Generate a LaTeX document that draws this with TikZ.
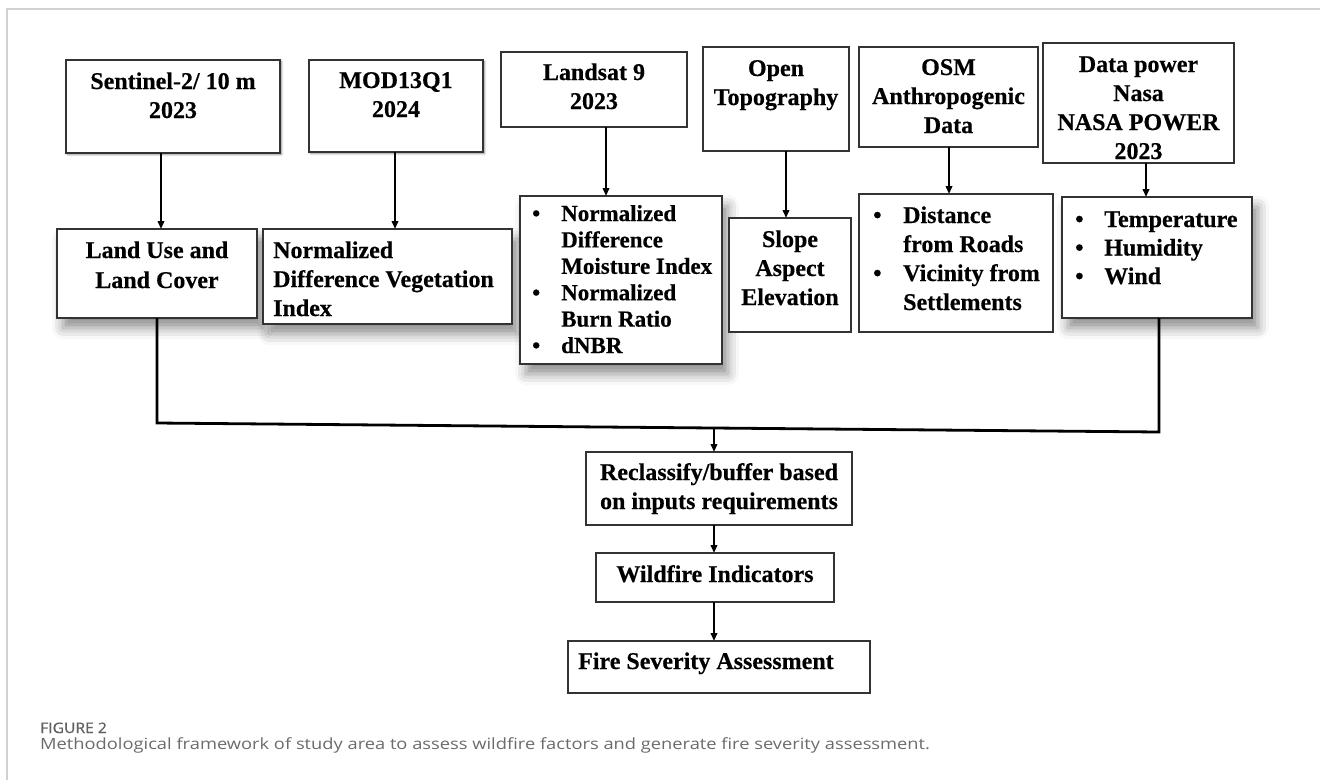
\documentclass[tikz,border=0pt]{standalone}
\usepackage{fontspec}
\setmainfont{Liberation Serif}[BoldFeatures={FakeBold=0.4}]
\newfontfamily\capfont[FakeStretch=1.18]{Open Sans}
\newfontfamily\capsb[FakeBold=1,FakeStretch=1.08]{Open Sans}
\usetikzlibrary{arrows.meta,shadows.blur}
\newcommand\bul{\makebox[29pt][l]{\textbullet}}
\begin{document}
\begin{tikzpicture}[x=1pt,y=-1pt,
  box/.style={draw=black!80, line width=1.5pt, inner sep=0pt, outer sep=0pt, anchor=north west, fill=white},
  sbox/.style={box, blur shadow={shadow xshift=6pt, shadow yshift=-10pt, shadow blur radius=11pt, shadow opacity=45}},
  tbox/.style={box, blur shadow={shadow xshift=1.5pt, shadow yshift=-1.5pt, shadow blur radius=2pt, shadow opacity=50}},
  txt/.style={inner sep=0pt, anchor=base, font=\bfseries\fontsize{24}{29}\selectfont},
  ltxt/.style={txt, anchor=base west},
  arr/.style={draw=black, line width=2pt, -{Triangle[length=8pt,width=6.5pt]}},
  conn/.style={draw=black, line width=2.8pt, line join=miter},
  frame/.style={draw=black!18, line width=1.6pt}
]
\useasboundingbox (0,0) rectangle (1320,780);
\draw[frame] (7,780) -- (7,9) -- (1320,9);

% top row
\node[tbox, minimum width=214pt, minimum height=93pt] (s1) at (66,60) {};
\node[tbox, minimum width=174pt, minimum height=92pt] (s2) at (309,60) {};
\node[box, minimum width=186pt, minimum height=75pt] (s3) at (501,52) {};
\node[box, minimum width=146pt, minimum height=104pt] (s4) at (703,47) {};
\node[box, minimum width=179pt, minimum height=100pt] (s5) at (859,47) {};
\node[box, minimum width=191pt, minimum height=120pt] (s6) at (1043,43) {};

\node[txt] (s1t) at (173,89) {\begin{tabular}[t]{@{}c@{}}Sentinel-2/ 10 m\\2023\end{tabular}};
\node[txt] (s2t) at (396,88) {\begin{tabular}[t]{@{}c@{}}MOD13Q1\\2024\end{tabular}};
\node[txt] (s3t) at (594,80) {\begin{tabular}[t]{@{}c@{}}Landsat 9\\2023\end{tabular}};
\node[txt] (s4t) at (776,76) {\begin{tabular}[t]{@{}c@{}}Open\\Topography\end{tabular}};
\node[txt] (s5t) at (948.5,75) {\begin{tabular}[t]{@{}c@{}}OSM\\Anthropogenic\\Data\end{tabular}};
\node[txt] (s6t) at (1138.5,72) {\begin{tabular}[t]{@{}c@{}}Data power\\Nasa\\NASA POWER\\2023\end{tabular}};

% second row
\node[sbox, minimum width=200pt, minimum height=89pt] (l1) at (57,229) {};
\node[sbox, minimum width=249pt, minimum height=95pt] (l2) at (263,229) {};
\node[sbox, minimum width=202pt, minimum height=168pt] (l3) at (520,196) {};
\node[box, minimum width=122pt, minimum height=114pt] (l4) at (729,218) {};
\node[box, minimum width=194pt, minimum height=138pt] (l5) at (859,194) {};
\node[sbox, minimum width=190pt, minimum height=121pt] (l6) at (1062,197) {};

\node[txt, font=\bfseries\fontsize{24}{30}\selectfont] (l1t) at (157,258) {\begin{tabular}[t]{@{}c@{}}Land Use and\\Land Cover\end{tabular}};
\node[ltxt] (l2t) at (273,258) {\begin{tabular}[t]{@{}l@{}}Normalized\\Difference Vegetation\\Index\end{tabular}};
\node[ltxt, font=\bfseries\fontsize{23}{26.4}\selectfont] (l3t) at (532,221) {\begin{tabular}[t]{@{}l@{}l@{}}\bul&Normalized\\&Difference\\&Moisture Index\\\bul&Normalized\\&Burn Ratio\\\bul&dNBR\end{tabular}};
\node[txt] (l4t) at (790,247) {\begin{tabular}[t]{@{}c@{}}Slope\\Aspect\\Elevation\end{tabular}};
\node[ltxt] (l5t) at (873,223) {\begin{tabular}[t]{@{}l@{}l@{}}\makebox[30pt][l]{\textbullet}&Distance\\&from Roads\\\makebox[30pt][l]{\textbullet}&Vicinity from\\&Settlements\end{tabular}};
\node[ltxt, font=\bfseries\fontsize{24}{28.5}\selectfont] (l6t) at (1075,227) {\begin{tabular}[t]{@{}l@{}l@{}}\bul&Temperature\\\bul&Humidity\\\bul&Wind\end{tabular}};

% lower chain
\node[box, minimum width=266pt, minimum height=73pt] (r1) at (586,452) {};
\node[box, minimum width=238pt, minimum height=49pt] (r2) at (596,553) {};
\node[box, minimum width=302pt, minimum height=52pt] (r3) at (568,641) {};
\node[txt] (r1t) at (719,480) {\begin{tabular}[t]{@{}c@{}}Reclassify/buffer based\\on inputs requirements\end{tabular}};
\node[txt] (r2t) at (715,582) {Wildfire Indicators};
\node[ltxt] (r3t) at (578,669) {Fire Severity Assessment};

% connectors
\coordinate (a1) at (161,0);
\coordinate (a2) at (395,0);
\coordinate (a3) at (606,0);
\coordinate (a4) at (786,0);
\coordinate (a5) at (949,0);
\coordinate (a6) at (1146,0);
\draw[arr] (s1.south -| a1) -- (l1.north -| a1);
\draw[arr] (s2.south -| a2) -- (l2.north -| a2);
\draw[arr] (s3.south -| a3) -- (l3.north -| a3);
\draw[arr] (s4.south -| a4) -- (l4.north -| a4);
\draw[arr] (s5.south -| a5) -- (l5.north -| a5);
\draw[arr] (s6.south -| a6) -- (l6.north -| a6);

\coordinate (c1) at (157,0);
\coordinate (c2) at (1159,0);
\coordinate (j1) at (157,423);
\coordinate (j2) at (1159,432);
\coordinate (jm) at (714,428);
\draw[conn] (l1.south -| c1) -- (j1) -- (j2) -- (l6.south -| c2);
\draw[arr] (jm) -- (r1.north -| jm);
\draw[arr] (r1.south -| jm) -- (r2.north -| jm);
\draw[arr] (r2.south -| jm) -- (r3.north -| jm);

% caption
\node[anchor=base west, inner sep=0pt, font=\capsb\fontsize{14.5}{17}\selectfont, text=black!62] (fig) at (40,733) {FIGURE 2};
\node[anchor=base west, inner sep=0pt, font=\capfont\fontsize{15.5}{19}\selectfont, text=black!58] (cap) at (40,749) {Methodological framework of study area to assess wildfire factors and generate fire severity assessment.};
\end{tikzpicture}
\end{document}
